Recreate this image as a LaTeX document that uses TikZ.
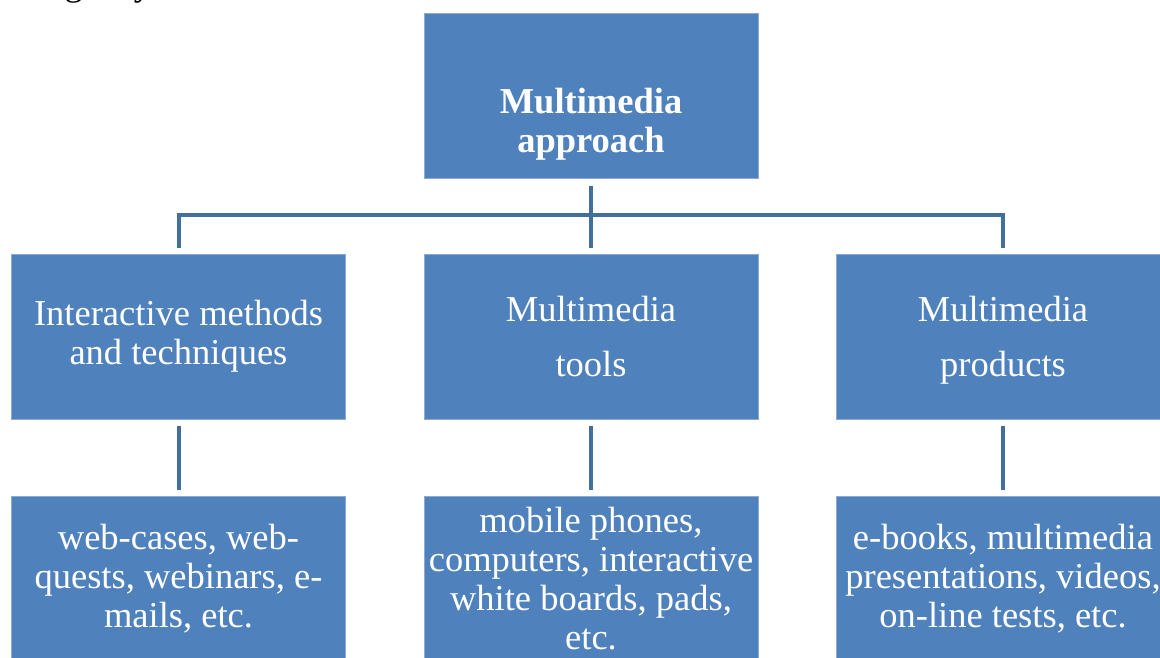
\documentclass[tikz,border=0pt]{standalone}
\usepackage{fontspec}
\setmainfont{Liberation Serif}
\definecolor{boxfill}{HTML}{4F81BD}
\definecolor{boxedge}{HTML}{8DAAD3}
\definecolor{conncol}{HTML}{41709F}
\begin{document}
\begin{tikzpicture}[x=1pt,y=-1pt,
  box/.style={draw=boxedge, fill=boxfill, line width=1pt, rectangle,
    minimum width=334pt, minimum height=165pt, inner sep=0pt},
  boxtext/.style={text=white, align=center, font=\fontsize{36.5}{39}\selectfont},
  conn/.style={draw=conncol, line width=4pt}]
\useasboundingbox (0,0) rectangle (1160,657);
\clip (0,0) rectangle (1160,657);
\node[anchor=base east, font=\fontsize{36}{39}\selectfont] (prev) at (162,-5) {following way.};
% top
\node[box] (top) at (591,95.5) {};
\node[boxtext, font=\fontsize{36.5}{39}\selectfont\bfseries] (toptxt) at (591,124) {Multimedia\\approach};
% middle row
\node[box, boxtext] (m1) at (178.5,336.5) {Interactive methods\\and techniques};
\node[box, boxtext] (m2) at (591,336.5) {Multimedia\\[16pt]tools};
\node[box, boxtext] (m3) at (1003,336.5) {Multimedia\\[16pt]\smash{products}};
% bottom row
\node[box, boxtext] (b1) at (178.5,578.5) {web-cases, web-\\quests, webinars, e-\\mails, etc.};
\node[box, boxtext] (b2) at (591,578.5) {mobile phones,\\computers, interactive\\white boards, pads,\\etc.};
\node[box, boxtext] (b3) at (1003,578.5) {e-books, multimedia\\presentations, videos,\\on-line tests, etc.};
% connectors
\coordinate (hj) at (591,215);
\draw[conn] ([yshift=-7pt]top.south) -- ([yshift=6pt]m2.north);
\draw[conn] ([yshift=6pt]m1.north) -- (m1.north |- hj) -- (m3.north |- hj) -- ([yshift=6pt]m3.north);
\draw[conn] ([yshift=-6pt]m1.south) -- ([yshift=6pt]b1.north);
\draw[conn] ([yshift=-6pt]m2.south) -- ([yshift=6pt]b2.north);
\draw[conn] ([yshift=-6pt]m3.south) -- ([yshift=6pt]b3.north);
\end{tikzpicture}
\end{document}
